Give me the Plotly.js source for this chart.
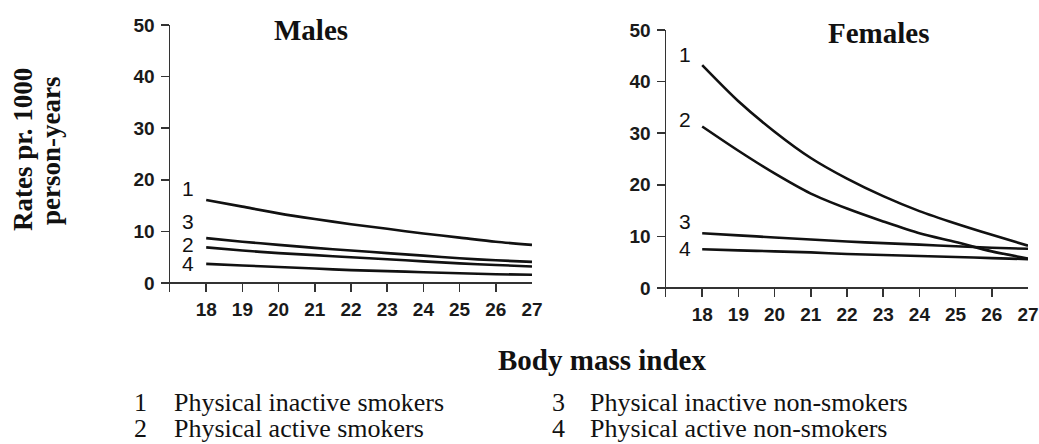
<!DOCTYPE html>
<html>
<head>
<meta charset="utf-8">
<script src="https://cdn.plot.ly/plotly-3.0.1.min.js"></script>
<style>
  html, body { margin: 0; padding: 0; background: #fff; }
  #chart { width: 1039px; height: 444px; }
</style>
</head>
<body>
<div id="chart"></div>
<script>
// ---- data ----
const bmi = [18, 19, 20, 21, 22, 23, 24, 25, 26, 27];
const yTicks = [0, 10, 20, 30, 40, 50];

const maleInactiveSmokers    = [16.1, 14.8, 13.5, 12.4, 11.4, 10.5, 9.6, 8.8, 8.0, 7.4];
const maleActiveSmokers      = [6.9, 6.3, 5.8, 5.4, 5.0, 4.6, 4.2, 3.8, 3.5, 3.2];
const maleInactiveNonSmokers = [8.7, 8.0, 7.4, 6.8, 6.3, 5.8, 5.3, 4.8, 4.4, 4.1];
const maleActiveNonSmokers   = [3.7, 3.4, 3.1, 2.8, 2.5, 2.3, 2.1, 1.9, 1.7, 1.6];

const femaleInactiveSmokers    = [43.2, 36.2, 30.3, 25.2, 21.2, 17.8, 14.9, 12.5, 10.3, 8.2];
const femaleActiveSmokers      = [31.3, 26.6, 22.2, 18.3, 15.4, 12.9, 10.6, 8.9, 7.1, 5.7];
const femaleInactiveNonSmokers = [10.6, 10.2, 9.8, 9.4, 9.0, 8.7, 8.4, 8.1, 7.8, 7.6];
const femaleActiveNonSmokers   = [7.5, 7.3, 7.1, 6.9, 6.6, 6.4, 6.2, 6.0, 5.8, 5.6];

const groupNumbers = ['1', '2', '3', '4'];
const groupNames = ['Physical inactive smokers', 'Physical active smokers',
                    'Physical inactive non-smokers', 'Physical active non-smokers'];

// ---- traces ----
const lineStyle = {color: '#111', width: 2.6, shape: 'spline', smoothing: 0.8};
function tr(y, xa, ya, name) {
  return {x: bmi, y: y, xaxis: xa, yaxis: ya, type: 'scatter', mode: 'lines',
          line: lineStyle, name: name, showlegend: false, hoverinfo: 'skip'};
}
const data = [
  tr(maleInactiveSmokers, 'x', 'y', groupNames[0]),
  tr(maleActiveSmokers, 'x', 'y', groupNames[1]),
  tr(maleInactiveNonSmokers, 'x', 'y', groupNames[2]),
  tr(maleActiveNonSmokers, 'x', 'y', groupNames[3]),
  tr(femaleInactiveSmokers, 'x2', 'y2', groupNames[0]),
  tr(femaleActiveSmokers, 'x2', 'y2', groupNames[1]),
  tr(femaleInactiveNonSmokers, 'x2', 'y2', groupNames[2]),
  tr(femaleActiveNonSmokers, 'x2', 'y2', groupNames[3])
];

// ---- layout ----
const tickFont = {family: 'Liberation Sans', size: 19, color: '#1a1a1a', weight: 'bold'};
const W = 1039, H = 444;
const px = v => v / W, py = v => 1 - v / H;

function xAxis(domain, anchor) {
  return {domain: domain, anchor: anchor, range: [17, 27], tickvals: bmi,
          ticktext: bmi.map(String), showline: false, showgrid: false, zeroline: false,
          ticks: 'inside', ticklen: 9, tickwidth: 1.5, tickcolor: '#333',
          tickfont: tickFont, ticklabelstandoff: 4, ticklabeloverflow: 'allow'};
}
function yAxis(domain, anchor) {
  return {domain: domain, anchor: anchor, range: [-1.8, 50], tickvals: yTicks,
          showline: true, linecolor: '#333', linewidth: 1.5, showgrid: false,
          zeroline: true, zerolinecolor: '#333', zerolinewidth: 1.5,
          ticks: 'outside', ticklen: 8, tickwidth: 1.5, tickcolor: '#333',
          tickfont: tickFont, ticklabelstandoff: 2};
}

const numFont = {family: 'Liberation Sans', size: 21, color: '#111'};
function lab(text, x, y, xr, yr) {
  return {text: text, x: x, y: y, xref: xr, yref: yr, showarrow: false, font: numFont,
          xanchor: 'center', yanchor: 'middle'};
}
const serifB = {family: 'Liberation Serif', color: '#111', weight: 'bold'};
const serif = {family: 'Liberation Serif', color: '#111', size: 26};

function legendRow(k, xNum, xText, yPix) {
  return [
    {text: groupNumbers[k], x: px(xNum), y: py(yPix), xref: 'paper', yref: 'paper', showarrow: false,
     xanchor: 'center', yanchor: 'middle', font: serif},
    {text: groupNames[k], x: px(xText), y: py(yPix), xref: 'paper', yref: 'paper', showarrow: false,
     xanchor: 'left', yanchor: 'middle', font: serif}
  ];
}

const annotations = [
  // curve numbers
  lab(groupNumbers[0], 17.5, 18.4, 'x', 'y'),
  lab(groupNumbers[2], 17.5, 11.9, 'x', 'y'),
  lab(groupNumbers[1], 17.5, 7.4, 'x', 'y'),
  lab(groupNumbers[3], 17.5, 3.8, 'x', 'y'),
  lab(groupNumbers[0], 17.52, 45.2, 'x2', 'y2'),
  lab(groupNumbers[1], 17.52, 32.6, 'x2', 'y2'),
  lab(groupNumbers[2], 17.52, 12.8, 'x2', 'y2'),
  lab(groupNumbers[3], 17.52, 7.7, 'x2', 'y2'),
  // panel titles
  {text: 'Males', x: px(311), y: py(30), xref: 'paper', yref: 'paper', showarrow: false,
   xanchor: 'center', yanchor: 'middle', font: Object.assign({size: 29}, serifB)},
  {text: 'Females', x: px(878), y: py(33), xref: 'paper', yref: 'paper', showarrow: false,
   xanchor: 'center', yanchor: 'middle', font: Object.assign({size: 29}, serifB)},
  // y title (two lines)
  {text: 'Rates pr. 1000', x: px(23), y: py(150), xref: 'paper', yref: 'paper', showarrow: false,
   textangle: -90, xanchor: 'center', yanchor: 'middle', font: Object.assign({size: 27}, serifB)},
  {text: 'person-years', x: px(51), y: py(151), xref: 'paper', yref: 'paper', showarrow: false,
   textangle: -90, xanchor: 'center', yanchor: 'middle', font: Object.assign({size: 27}, serifB)},
  // x title
  {text: 'Body mass index', x: px(602), y: py(360), xref: 'paper', yref: 'paper', showarrow: false,
   xanchor: 'center', yanchor: 'middle', font: Object.assign({size: 29}, serifB)}
].concat(
  legendRow(0, 140, 172, 402),
  legendRow(1, 140, 172, 428),
  legendRow(2, 558, 588, 402),
  legendRow(3, 558, 588, 428)
);

const layout = {
  width: W, height: H,
  margin: {l: 0, r: 0, t: 0, b: 0},
  paper_bgcolor: '#fff', plot_bgcolor: '#fff',
  showlegend: false,
  xaxis: xAxis([px(170), px(532)], 'y'),
  yaxis: yAxis([py(292.3), py(25)], 'x'),
  xaxis2: xAxis([px(666), px(1028)], 'y2'),
  yaxis2: yAxis([py(297.3), py(30)], 'x2'),
  annotations: annotations
};

Plotly.newPlot('chart', data, layout, {displayModeBar: false, staticPlot: true});
</script>
</body>
</html>
